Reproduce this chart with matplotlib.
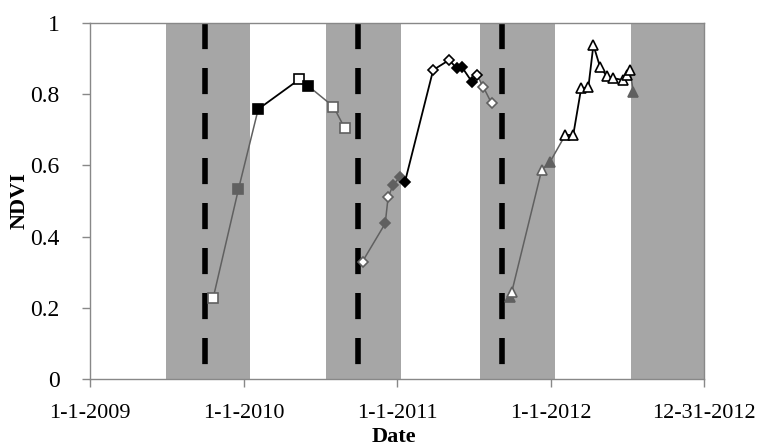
import numpy as np
import matplotlib.pyplot as plt

plt.rcParams['font.family'] = ['Liberation Serif', 'DejaVu Serif']

# marker kinds: first letter g=gray / k=black, second o=open / f=filled
# 2009-2010 season (squares)
dates_a = ['2009-10-21', '2009-12-20', '2010-02-05', '2010-05-14', '2010-06-04',
           '2010-08-03', '2010-08-30']
ndvi_a = [0.228, 0.533, 0.758, 0.842, 0.823, 0.765, 0.704]
kind_a = ['go', 'gf', 'kf', 'ko', 'kf', 'go', 'go']

# 2010-2011 season (diamonds)
dates_b = ['2010-10-11', '2010-12-04', '2010-12-11', '2010-12-23', '2011-01-08',
           '2011-01-20', '2011-03-28', '2011-05-05', '2011-05-23', '2011-06-04',
           '2011-06-28', '2011-07-10', '2011-07-25', '2011-08-14']
ndvi_b = [0.330, 0.437, 0.512, 0.545, 0.568, 0.554, 0.868, 0.896, 0.873, 0.877,
          0.835, 0.854, 0.821, 0.774]
kind_b = ['go', 'gf', 'go', 'gf', 'gf', 'kf', 'ko', 'ko', 'kf', 'kf',
          'kf', 'ko', 'go', 'go']

# 2011-2012 season (triangles)
dates_c = ['2011-09-27', '2011-10-01', '2011-12-11', '2011-12-31', '2012-02-05',
           '2012-02-24', '2012-03-14', '2012-03-31', '2012-04-12', '2012-04-28',
           '2012-05-14', '2012-05-29', '2012-06-21', '2012-07-01', '2012-07-08',
           '2012-07-16']
ndvi_c = [0.231, 0.245, 0.587, 0.610, 0.685, 0.685, 0.817, 0.819, 0.938, 0.876,
          0.851, 0.845, 0.840, 0.854, 0.868, 0.806]
kind_c = ['gf', 'go', 'go', 'gf', 'ko', 'ko', 'ko', 'ko', 'ko', 'ko',
          'ko', 'ko', 'ko', 'ko', 'ko', 'gf']

# shaded periods and dashed markers
band_start = ['2009-07-01', '2010-07-15', '2011-07-17', '2012-07-10']
band_end = ['2010-01-16', '2011-01-11', '2012-01-11', '2012-12-31']
dash_dates = ['2009-10-01', '2010-10-01', '2011-09-07']

xtick_dates = ['2009-01-01', '2010-01-01', '2011-01-01', '2012-01-01', '2012-12-31']
xtick_labels = ['1-1-2009', '1-1-2010', '1-1-2011', '1-1-2012', '12-31-2012']
ytick_vals = [0, 0.2, 0.4, 0.6, 0.8, 1]
ytick_labels = ['0', '0.2', '0.4', '0.6', '0.8', '1']

d64 = lambda lst: np.array(lst, dtype='datetime64[D]')

GRAY = '#606060'
BAND = '#a6a6a6'
AXC = '#888888'

fig = plt.figure(figsize=(7.61, 4.48), dpi=100)
ax = fig.add_axes([90/761, 1 - 379/448, 614/761, 356/448])

for s, e in zip(d64(band_start), d64(band_end)):
    ax.axvspan(s, e, color=BAND, lw=0, zorder=0)

for d in d64(dash_dates):
    ax.plot([d, d], [1, 0], color='black', lw=4, solid_capstyle='butt',
            dash_capstyle='butt', ls=(0, (4.7, 3.4)), zorder=2)


def draw_series(dates, vals, kinds, marker, ms):
    x = d64(dates)
    for i in range(len(x) - 1):
        black = kinds[i][0] == 'k' and kinds[i + 1][0] == 'k'
        ax.plot(x[i:i + 2], vals[i:i + 2], color='black' if black else GRAY,
                lw=1.3 if black else 1.1, zorder=3)
    for xi, yi, k in zip(x, vals, kinds):
        c = 'black' if k[0] == 'k' else GRAY
        face = c if k[1] == 'f' else 'white'
        ax.plot([xi], [yi], marker=marker, ms=ms, mec=c, mfc=face, mew=1.2,
                ls='none', zorder=4)


draw_series(dates_a, ndvi_a, kind_a, 's', 7.5)
draw_series(dates_b, ndvi_b, kind_b, 'D', 5.5)
draw_series(dates_c, ndvi_c, kind_c, '^', 7.5)

ax.set_xlim(d64(['2009-01-01'])[0], d64(['2012-12-31'])[0])
ax.set_ylim(0, 1)
ax.set_xticks(d64(xtick_dates))
ax.set_xticklabels(xtick_labels, fontsize=16)
ax.set_yticks(ytick_vals)
ax.set_yticklabels(ytick_labels, fontsize=17)
ax.tick_params(axis='both', color=AXC, length=6, width=1, direction='out')
ax.tick_params(axis='x', pad=12)
ax.tick_params(axis='y', pad=16)
for sp in ax.spines.values():
    sp.set_color(AXC)
    sp.set_linewidth(1)

fig.text(394/761, 11/448, 'Date', fontsize=16, fontweight='bold',
         ha='center', va='center')
fig.text(20/761, 1 - 201/448, 'NDVI', fontsize=16, fontweight='bold',
         rotation=90, ha='center', va='center')

fig.savefig('out.png', dpi=100)
